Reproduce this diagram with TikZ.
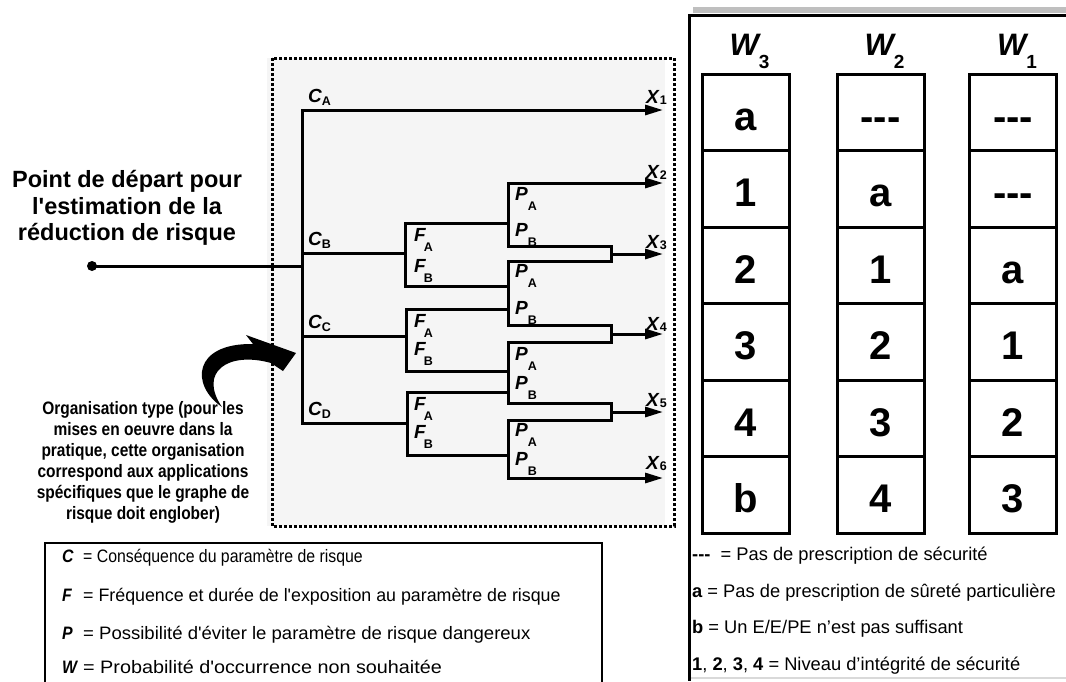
\documentclass[tikz,border=0pt]{standalone}
\usepackage{fontspec}
\setmainfont{Liberation Sans}
\newfontfamily\narrowfont{Liberation Sans}[FakeStretch=0.86]
\usetikzlibrary{arrows.meta,positioning}

\newcommand{\sublbl}[4]{#1\kern#3pt\raisebox{-#4pt}{\fontsize{12.5}{12.5}\selectfont\upshape #2}}

\tikzset{
  branch/.style={line width=3pt, line cap=rect, line join=miter},
  tipped/.style={branch, -{Triangle[length=18pt,width=10pt]}},
  dotbox/.style={line width=3pt, dash pattern=on 2.6pt off 2.4pt},
  varlbl/.style={inner sep=0pt, font=\fontsize{19}{19}\selectfont\bfseries\itshape},
  wlbl/.style={inner sep=0pt, font=\fontsize{31}{31}\selectfont\bfseries\itshape},
  cell/.style={draw, line width=3pt, minimum width=87pt, minimum height=76.5pt, inner sep=0pt,
    text height=36pt, text depth=0pt, font=\fontsize{40}{40}\selectfont\bfseries},
  legtxt/.style={inner sep=0pt, anchor=base west, font=\fontsize{18.3}{18.3}\selectfont},
  dot/.style={circle, fill, inner sep=0pt, minimum size=10pt}
}

\begin{document}
\begin{tikzpicture}[x=1pt,y=-1pt]
\useasboundingbox (0,0) rectangle (1066,681);

% dotted frame round the graph
\fill[black!4] (267,58) rectangle (665,526);
\draw[dotbox] (272,58) rectangle (674,526);

% junctions of the graph
\coordinate (tA) at (302,110);
\coordinate (tB) at (302,253);
\coordinate (tS) at (302,266);
\coordinate (tC) at (302,336);
\coordinate (tD) at (302,423);
\coordinate (pcol) at (508,0);
\coordinate (mcol) at (611,0);
\foreach \i/\yy in {1/110,2/183,3/254,4/334,5/412,6/478} \coordinate (x\i) at (663,\yy);

\node[dot] (start) at (92,266) {};
\draw[branch] (start.center) -- (tS);
\draw[branch] (tA) -- (tD);
\draw[tipped] (tA) -- (x1);

\foreach \c/\cy/\fa/\fb/\fx in {B/253/223/286/405,C/336/309/371/406,D/423/392/455/407} {
  \coordinate (f\c) at (\fx,\cy);
  \coordinate (fa\c) at (\fx,\fa);
  \coordinate (fb\c) at (\fx,\fb);
  \draw[branch] (t\c) -- (f\c);
  \draw[branch] (fa\c -| pcol) -- (fa\c) -- (fb\c) -- (fb\c -| pcol);
}

\foreach \m/\pt/\pb in {1/183/246,2/261/325,3/342/403,4/420/478} {
  \coordinate (pa\m) at (508,\pt);
  \coordinate (pb\m) at (508,\pb);
  \draw[branch] (pa\m) -- (pb\m);
}
\draw[tipped] (pa1) -- (x2);
\draw[tipped] (pb4) -- (x6);
\foreach \m/\n/\i in {1/2/3,2/3/4,3/4/5} {
  \draw[branch] (pb\m) -- (pb\m -| mcol) -- (pa\n -| mcol) -- (pa\n);
  \draw[tipped] (x\i -| mcol) -- (x\i);
}

% parameter labels
\foreach \v/\s/\k/\d/\xx/\yy in {C/A/0/3/308/102,C/B/0/3/308/245,C/C/0/3/308/328,C/D/0/3/308/415,
    F/A/-2/10/414/241,F/B/-2/10/414/272,F/A/-2/10/414/327,F/B/-2/10/414/355,F/A/-2/10/414/410,F/B/-2/10/414/438,
    P/A/0/10/515/200,P/B/0/10/515/236,P/A/0/10/515/277,P/B/0/10/515/314,
    P/A/0/10/515/360,P/B/0/10/515/389,P/A/0/10/515/436,P/B/0/10/515/465}
  \node[varlbl, anchor=base west] (\v\s\yy) at (\xx,\yy) {\sublbl{\v}{\s}{\k}{\d}};
\foreach \i/\yy in {1/103,2/178,3/248,4/330,5/406,6/469}
  \node[varlbl, anchor=base east] (X\i) at (667,\yy) {\sublbl{X}{\i}{1}{1}};

% left texts
\node[align=center, inner sep=0pt, font=\fontsize{23.5}{26.5}\selectfont\bfseries] (depart) at (127,208)
  {Point de départ pour\\l\textquotesingle estimation de la\\réduction de risque};
\node[align=center, inner sep=0pt, font=\narrowfont\fontsize{18}{21}\selectfont\bfseries] (orga) at (143,462)
  {Organisation type (pour les\\mises en oeuvre dans la\\pratique, cette organisation\\correspond aux applications\\spécifiques que le graphe de\\risque doit englober)};
\fill (222,407) .. controls (190,385) and (193,343) .. (253,344) -- (246,335) -- (296,353)
  -- (283,371) -- (271,363) .. controls (228,351) and (198,372) .. (222,407) -- cycle;

% legend of the parameters
\draw[line width=2.2pt] (45,682) -- (45,543) -- (602,543) -- (602,682);
\foreach \v/\sx/\txt/\yy in {C/0.88/Conséquence du paramètre de risque/562,
    F/0.99/Fréquence et durée de l\textquotesingle exposition au paramètre de risque/601,
    P/1.03/Possibilité d\textquotesingle éviter le paramètre de risque dangereux/639,
    W/1.1/Probabilité d\textquotesingle occurrence non souhaitée/673}
  \node[legtxt, font=\fontsize{18}{18}\selectfont] (leg\v) at (62,\yy)
    {\makebox[21pt][l]{\scalebox{0.88}[1]{\bfseries\itshape\v}}\scalebox{\sx}[1]{= \txt}};

% right panel
\fill[black!25] (693,7) rectangle (1066,13);
\draw[line width=3pt] (1066,15.5) -- (689.5,15.5) -- (689.5,681);
\draw[black!15, line width=1.5pt] (691,678) -- (1066,678);
\foreach \w/\cx/\vals in {3/745.5/{a,1,2,3,4,b},2/880.5/{-{}-{}-,a,1,2,3,4},1/1013/{-{}-{}-,-{}-{}-,a,1,2,3}} {
  \node[wlbl, anchor=base] (W\w) at (\cx+4,55) {W\raisebox{-13pt}{\fontsize{19}{19}\selectfont\upshape\w}};
  \foreach \e [count=\r] in \vals
    \node[cell] (W\w-\r) at (\cx,74+76.5*\r-38.25) {\e};
}
\node[legtxt] (legDash) at (692,560) {{\bfseries -{}-{}-}\ \ = Pas de prescription de sécurité};
\node[legtxt] (legA) at (692,597) {{\bfseries a} = Pas de prescription de sûreté particulière};
\node[legtxt] (legB) at (692,633) {{\bfseries b} = Un E/E/PE n’est pas suffisant};
\node[legtxt] (legNum) at (692,670) {{\bfseries 1}, {\bfseries 2}, {\bfseries 3}, {\bfseries 4} = Niveau d’intégrité de sécurité};
\end{tikzpicture}
\end{document}
